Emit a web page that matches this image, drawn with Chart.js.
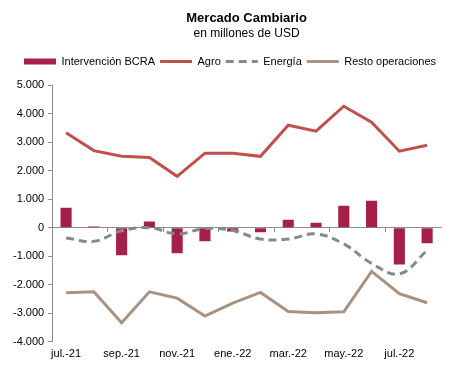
<!DOCTYPE html>
<html>
<head>
<meta charset="utf-8">
<script src="https://cdn.jsdelivr.net/npm/chart.js@4"></script>
<style>
  html, body { margin: 0; padding: 0; background: #fff; }
  #wrap { width: 453px; height: 371px; }
</style>
</head>
<body>
<div id="wrap"><canvas id="cambioChart"></canvas></div>
<script>
// Datos (millones de USD)
const meses = ['jul.-21', 'ago.-21', 'sep.-21', 'oct.-21', 'nov.-21', 'dic.-21', 'ene.-22',
               'feb.-22', 'mar.-22', 'abr.-22', 'may.-22', 'jun.-22', 'jul.-22', 'ago.-22'];
const intervencionBCRA = [700, 40, -970, 220, -900, -480, -130, -160, 280, 175, 770, 940, -1290, -550];
const agro = [3330, 2700, 2500, 2460, 1800, 2610, 2610, 2500, 3590, 3380, 4255, 3700, 2680, 2890];
const energia = [-360, -480, -110, 0, -220, -30, -100, -400, -400, -220, -570, -1250, -1620, -800];
const restoOperaciones = [-2285, -2250, -3330, -2250, -2470, -3100, -2645, -2270, -2940, -2980, -2950, -1530, -2310, -2630];

const ejeY = { min: -4000, max: 5000, paso: 1000 };

const gris = '#8c8c8c';
Chart.defaults.font.family = '"Liberation Sans", Arial, sans-serif';
Chart.defaults.font.size = 11;
Chart.defaults.color = '#000';

function formatMiles(v) {
    return new Intl.NumberFormat('de-DE', { maximumFractionDigits: 0 }).format(v);
}

// deja un poco más de aire debajo de la leyenda
const espacioLeyenda = {
    id: 'espacioLeyenda',
    beforeInit(chart) {
        const fitOriginal = chart.legend.fit;
        chart.legend.fit = function () {
            fitOriginal.bind(chart.legend)();
            this.height += 8;
        };
    }
};

const ctx = document.getElementById('cambioChart').getContext('2d');
const cambioChart = new Chart(ctx, {
    data: {
        labels: meses,
        datasets: [
            {
                type: 'bar',
                label: 'Intervención BCRA',
                data: intervencionBCRA,
                backgroundColor: '#A61F49',
                barPercentage: 0.4,
                categoryPercentage: 1,
                order: 4
            },
            {
                type: 'line',
                label: 'Agro',
                data: agro,
                borderColor: '#C0504D',
                borderWidth: 3,
                pointRadius: 0,
                tension: 0,
                order: 1
            },
            {
                type: 'line',
                label: 'Energía',
                data: energia,
                borderColor: '#7F8D85',
                borderWidth: 3,
                borderDash: [8, 5],
                pointRadius: 0,
                tension: 0.4,
                order: 2
            },
            {
                type: 'line',
                label: 'Resto operaciones',
                data: restoOperaciones,
                borderColor: '#A89282',
                borderWidth: 3,
                pointRadius: 0,
                tension: 0,
                order: 3
            }
        ]
    },
    options: {
        responsive: true,
        maintainAspectRatio: false,
        animation: false,
        layout: { padding: { left: 9, right: 12, top: 4, bottom: 4 } },
        plugins: {
            tooltip: { enabled: false },
            title: {
                display: true,
                fullSize: false,
                text: 'Mercado Cambiario',
                font: { size: 13, weight: 'bold', lineHeight: 1 },
                padding: { top: 7.5, bottom: 0 }
            },
            subtitle: {
                display: true,
                fullSize: false,
                text: 'en millones de USD',
                font: { size: 12, lineHeight: 1 },
                padding: { top: 3.5, bottom: 11 }
            },
            legend: {
                position: 'top',
                align: 'end',
                labels: {
                    usePointStyle: true,
                    pointStyleWidth: 32,
                    padding: 5,
                    generateLabels: chart => chart.data.datasets.map((ds, i) => ({
                        text: ds.label,
                        fillStyle: ds.type === 'bar' ? ds.backgroundColor : ds.borderColor,
                        strokeStyle: ds.type === 'bar' ? ds.backgroundColor : ds.borderColor,
                        lineWidth: ds.type === 'bar' ? 6 : 3,
                        lineDash: ds.borderDash || [],
                        pointStyle: 'line',
                        hidden: false,
                        datasetIndex: i
                    }))
                }
            }
        },
        scales: {
            x: {
                type: 'category',
                offset: true,
                border: { display: false },
                grid: { display: false, drawTicks: false },
                ticks: {
                    autoSkip: false,
                    maxRotation: 0,
                    padding: 6,
                    callback: function (val, i) { return i % 2 === 0 ? meses[i] : ''; }
                }
            },
            xCero: {
                type: 'category',
                axis: 'x',
                labels: meses,
                position: { y: 0 },
                offset: true,
                border: { display: true, color: gris, width: 1 },
                grid: {
                    offset: true,
                    drawOnChartArea: false,
                    drawTicks: true,
                    tickLength: 4,
                    color: c => (c.index % 2 === 0 ? gris : 'rgba(0,0,0,0)')
                },
                ticks: { display: false, autoSkip: false }
            },
            y: {
                min: ejeY.min,
                max: ejeY.max,
                border: { display: true, color: gris, width: 1 },
                grid: { drawOnChartArea: false, drawTicks: true, tickLength: 4, color: gris },
                ticks: {
                    stepSize: ejeY.paso,
                    padding: 4,
                    callback: v => formatMiles(v)
                }
            }
        }
    },
    plugins: [espacioLeyenda]
});
</script>
</body>
</html>
